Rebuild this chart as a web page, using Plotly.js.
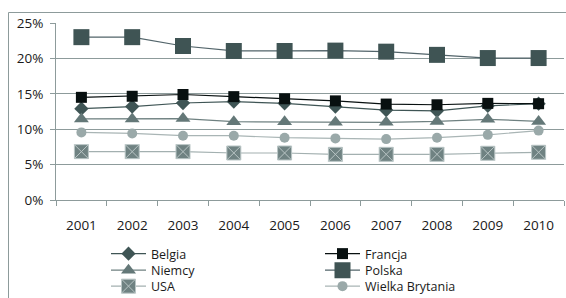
<!DOCTYPE html>
<html>
<head>
<meta charset="utf-8">
<script src="https://cdn.plot.ly/plotly-3.0.1.min.js"></script>
<style>html,body{margin:0;padding:0;background:#fff;}#chart{width:566px;height:298px;}</style>
</head>
<body>
<div id="chart"></div>
<script>
const years = ['2001','2002','2003','2004','2005','2006','2007','2008','2009','2010'];
const belgia  = [12.9, 13.2, 13.7, 13.9, 13.65, 13.2, 12.7, 12.6, 13.3, 13.6];
const francja = [14.5, 14.65, 14.9, 14.6, 14.3, 14.0, 13.55, 13.45, 13.65, 13.6];
const niemcy  = [11.45, 11.45, 11.5, 11.06, 11.06, 10.97, 10.97, 11.1, 11.4, 11.1];
const polska  = [23.0, 23.0, 21.75, 21.05, 21.05, 21.1, 20.95, 20.5, 20.05, 20.05];
const usa     = [6.83, 6.83, 6.83, 6.64, 6.64, 6.45, 6.45, 6.45, 6.6, 6.74];
const wb      = [9.55, 9.4, 9.08, 9.08, 8.8, 8.7, 8.6, 8.8, 9.2, 9.8];
const seriesNames = ['Belgia','Francja','Niemcy','Polska','USA','Wielka Brytania'];
const yTicks = [0, 5, 10, 15, 20, 25];
const yTickLabels = ['0%', '5%', '10%', '15%', '20%', '25%'];

const W = 566, H = 298, mL = 56, mR = 2, mT = 23, mB = 98;
const pw = W - mL - mR, ph = H - mT - mB;
const px = x => (x - mL) / pw;
const py = y => (H - mB - y) / ph;

const FONT = 'Open Sans, sans-serif';
const grid = '#8d9b9b';

function tr(name, y, color, lineColor, symbol, size, lineW, mlc, leg) {
  return {
    type: 'scatter', mode: 'lines+markers', name: name, x: years, y: y,
    line: {color: lineColor, width: lineW},
    marker: {symbol: symbol, size: size, color: color, line: {color: mlc || color, width: mlc ? 1 : 0}},
    legend: leg
  };
}

const data = [
  tr(seriesNames[0], belgia, '#3f5555', '#3f5555', 'diamond', 11, 1.2, null, 'legend'),
  tr(seriesNames[1], francja, '#081010', '#081010', 'square', 11, 1.2, null, 'legend2'),
  tr(seriesNames[2], niemcy, '#647878', '#6f8181', 'triangle-up', 13, 1.2, null, 'legend3'),
  tr(seriesNames[3], polska, '#3f5454', '#52646a', 'square', 16, 1.2, null, 'legend4'),
  tr(seriesNames[4], usa, '#6f8282', '#a3b0b0', 'square-x', 14, 1.2, '#b9c5c5', 'legend5'),
  tr(seriesNames[5], wb, '#9aa9a9', '#a9b5b5', 'circle', 10, 1.2, null, 'legend6')
];

function leg(xpix, ypix) {
  return {x: px(xpix), y: py(ypix), xanchor: 'left', yanchor: 'middle', itemwidth: 35,
    font: {family: FONT, size: 12.5, color: '#1a1a1a'}, bgcolor: 'rgba(0,0,0,0)', borderwidth: 0};
}

const layout = {
  width: W, height: H,
  margin: {l: mL, r: mR, t: mT, b: mB, pad: 0, autoexpand: false},
  paper_bgcolor: '#ffffff', plot_bgcolor: '#ffffff',
  font: {family: FONT, size: 13.5, color: '#1a1a1a'},
  xaxis: {
    type: 'category', range: [-0.5, 9.5], fixedrange: true, automargin: false,
    showgrid: false, showline: true, linecolor: grid, linewidth: 1,
    ticks: 'outside', tickson: 'boundaries', ticklen: 5, tickcolor: grid, tickwidth: 1,
    ticklabelstandoff: 13, tickfont: {family: FONT, size: 13.5, color: '#1a1a1a'}
  },
  yaxis: {
    range: [0, 25], tickmode: 'array', tickvals: yTicks, ticktext: yTickLabels, fixedrange: true, automargin: false,
    showgrid: true, gridcolor: grid, gridwidth: 1, zeroline: false,
    showline: true, linecolor: grid, linewidth: 1,
    ticks: 'outside', ticklen: 5, tickcolor: grid, tickwidth: 1,
    ticklabelstandoff: 4, tickfont: {family: FONT, size: 13.5, color: '#1a1a1a'}
  },
  showlegend: true,
  legend: leg(106, 254),
  legend2: leg(320, 254),
  legend3: leg(106, 270.5),
  legend4: leg(320, 270.5),
  legend5: leg(106, 286.5),
  legend6: leg(320, 286.5),
  shapes: [{type: 'rect', xref: 'paper', yref: 'paper', x0: px(8.5), x1: px(W + 10), y0: py(H + 10), y1: py(12.5),
    line: {color: grid, width: 1}, fillcolor: 'rgba(0,0,0,0)', layer: 'below'}]
};

Plotly.newPlot('chart', data, layout, {displayModeBar: false, staticPlot: true});
</script>
</body>
</html>
